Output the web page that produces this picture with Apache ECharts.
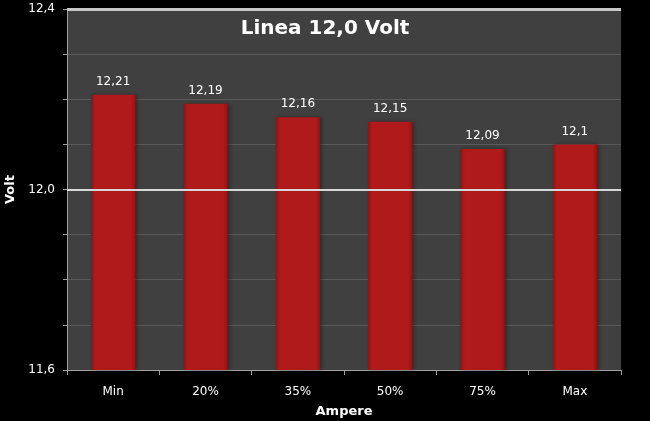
<!DOCTYPE html>
<html>
<head>
<meta charset="utf-8">
<script src="https://cdn.jsdelivr.net/npm/echarts@6/dist/echarts.min.js"></script>
<style>
  html, body { margin: 0; padding: 0; background: #000; }
  #chart { width: 650px; height: 421px; }
</style>
</head>
<body>
<div id="chart"></div>
<script>
// dati
const categories = ['Min', '20%', '35%', '50%', '75%', 'Max'];
const volts = [12.21, 12.19, 12.16, 12.15, 12.09, 12.1];
const yTicks = [11.6, 12.0, 12.4];

const fmt = (v) => String(v).replace('.', ',');
const font = 'Tahoma, "DejaVu Sans", sans-serif';

const chart = echarts.init(document.getElementById('chart'));

const option = {
  backgroundColor: '#000',
  animation: false,
  title: {
    text: 'Linea 12,0 Volt',
    left: 'center',
    top: 14,
    textStyle: { color: '#fff', fontSize: 20, fontWeight: 'bold', fontFamily: font }
  },
  grid: {
    left: 67, right: 29, top: 9, bottom: 51,
    outerBoundsMode: 'none',
    containLabel: false,
    show: true, backgroundColor: '#404040', borderWidth: 0
  },
  xAxis: {
    type: 'category',
    data: categories,
    name: 'Ampere',
    nameLocation: 'middle',
    nameGap: 35,
    nameTextStyle: { color: '#fff', fontWeight: 'bold', fontSize: 13, fontFamily: font },
    axisLine: { lineStyle: { color: '#a0a0a0' } },
    axisTick: { show: true, length: 5, lineStyle: { color: '#a0a0a0' } },
    axisLabel: { color: '#fff', fontSize: 12, margin: 16, fontFamily: font }
  },
  yAxis: {
    type: 'value',
    min: 11.6,
    max: 12.4,
    interval: 0.1,
    name: 'Volt',
    nameLocation: 'middle',
    nameGap: 50,
    nameRotate: 90,
    nameTextStyle: { color: '#fff', fontWeight: 'bold', fontSize: 13, fontFamily: font },
    axisLine: { show: true, lineStyle: { color: '#a0a0a0' } },
    axisTick: { show: true, length: 4, lineStyle: { color: '#a0a0a0' } },
    axisLabel: {
      color: '#fff', fontSize: 12, fontFamily: font, margin: 12,
      formatter: (v) => {
        const t = yTicks.find((y) => Math.abs(y - v) < 1e-6);
        return t === undefined ? '' : t.toFixed(1).replace('.', ',');
      }
    },
    splitLine: { lineStyle: { color: '#5a5a5a', width: 1 } }
  },
  series: [
    {
      type: 'bar',
      data: volts,
      barWidth: '48%',
      itemStyle: {
        color: new echarts.graphic.LinearGradient(0, 0, 1, 0, [
          { offset: 0, color: '#8e1414' },
          { offset: 0.1, color: '#b01a1a' },
          { offset: 0.9, color: '#b01a1a' },
          { offset: 1, color: '#8e1414' }
        ]),
        shadowColor: 'rgba(0,0,0,0.35)',
        shadowBlur: 4,
        shadowOffsetX: 2
      },
      label: {
        show: true,
        position: 'top',
        distance: 7,
        color: '#fff',
        fontSize: 12,
        fontFamily: font,
        formatter: (p) => fmt(p.value)
      },
      markLine: {
        silent: true,
        symbol: 'none',
        label: { show: false },
        lineStyle: { color: '#d8d8d8', type: 'solid', width: 2 },
        data: [{ yAxis: 12.0 }, { yAxis: 12.4, lineStyle: { color: '#c8c8c8', width: 3 } }]
      },
      z: 3
    }
  ]
};

chart.setOption(option);
</script>
</body>
</html>
